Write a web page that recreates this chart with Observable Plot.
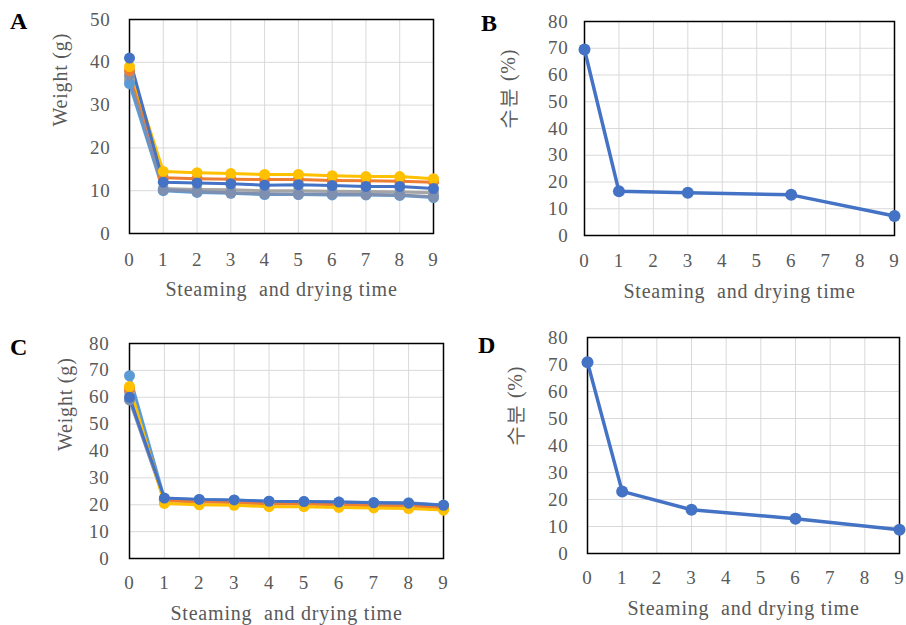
<!DOCTYPE html>
<html>
<head>
<meta charset="utf-8">
<script src="https://cdn.jsdelivr.net/npm/d3@7"></script>
<script src="https://cdn.jsdelivr.net/npm/@observablehq/plot@0.6"></script>
<style>
  html, body { margin: 0; padding: 0; background: #fff; }
  #wrap { position: relative; width: 906px; height: 625px; overflow: hidden; }
  .panel { position: absolute; }
  .panel text { letter-spacing: 0.8px; }
  .letter { position: absolute; font-family: "Liberation Serif"; font-weight: bold; font-size: 24px; color: #000; }
</style>
</head>
<body>
<div id="wrap"></div>
<script>
// ---- data ----
const timesAll = [0, 1, 2, 3, 4, 5, 6, 7, 8, 9];
const xTicks = [0, 1, 2, 3, 4, 5, 6, 7, 8, 9];
const seriesNames = ["S1", "S2", "S3", "S4", "S5", "S6"];
const seriesColors = ["#A5A5A5", "#5B9BD5", "#7F8FAF", "#ED7D31", "#FFC000", "#4472C4"];

// Panel A: weight (g)
const aGray      = [36, 10.5, 10.3, 10.2, 10.0, 10.0, 9.9, 9.8, 9.7, 9.5];
const aLightBlue = [35, 10.0, 9.6, 9.4, 9.1, 9.1, 9.0, 9.0, 8.9, 8.4];
const aBlueGray  = [37, 10.2, 9.8, 9.5, 9.3, 9.2, 9.2, 9.1, 9.0, 8.6];
const aOrange    = [38, 13.0, 12.8, 12.7, 12.6, 12.6, 12.4, 12.3, 12.2, 12.0];
const aYellow    = [39, 14.5, 14.2, 14.0, 13.8, 13.8, 13.5, 13.3, 13.3, 12.8];
const aBlue      = [41, 12.0, 11.8, 11.6, 11.3, 11.4, 11.2, 11.0, 11.0, 10.5];
const yTicksA = [0, 10, 20, 30, 40, 50];

// Panel C: weight (g)
const cGray      = [62, 22.0, 21.5, 21.2, 20.8, 20.8, 20.5, 20.2, 20.0, 19.3];
const cLightBlue = [68, 22.3, 22.0, 21.7, 21.3, 21.2, 21.0, 20.8, 20.7, 19.9];
const cBlueGray  = [59, 21.8, 21.3, 21.1, 20.7, 20.6, 20.4, 20.1, 20.0, 19.4];
const cOrange    = [63, 21.5, 21.0, 20.8, 20.3, 20.3, 20.0, 19.6, 19.5, 18.8];
const cYellow    = [64, 20.5, 20.0, 19.8, 19.3, 19.3, 19.0, 18.8, 18.6, 18.0];
const cBlue      = [60, 22.5, 22.0, 21.8, 21.3, 21.2, 21.0, 20.7, 20.6, 19.8];
const yTicks80 = [0, 10, 20, 30, 40, 50, 60, 70, 80];

// Panels B and D: moisture (%)
const moistTimes = [0, 1, 3, 6, 9];
const bMoist = [69.5, 16.5, 16.0, 15.2, 7.3];
const dMoist = [70.8, 23.0, 16.2, 12.9, 8.8];

const xLabel = "Steaming  and drying time";
const weightLabel = "Weight (g)";
const moistLabel = "수분 (%)";

// ---- build tables ----
function longTable(arrays) {
  const rows = [];
  arrays.forEach((vals, i) => vals.forEach((v, j) => rows.push({series: seriesNames[i], t: timesAll[j], v})));
  return rows;
}
const tableA = longTable([aGray, aLightBlue, aBlueGray, aOrange, aYellow, aBlue]);
const tableC = longTable([cGray, cLightBlue, cBlueGray, cOrange, cYellow, cBlue]);
const tableB = moistTimes.map((t, i) => ({t, v: bMoist[i]}));
const tableD = moistTimes.map((t, i) => ({t, v: dMoist[i]}));

const font = "Liberation Serif";
const tickColor = "#595959";

function panel(cfg) {
  const multi = cfg.multi;
  const marks = [
    Plot.gridX(xTicks, {stroke: "#d9d9d9", strokeOpacity: 1, strokeWidth: 1}),
    Plot.gridY(cfg.yTicks, {stroke: "#d9d9d9", strokeOpacity: 1, strokeWidth: 1}),
    Plot.axisX(xTicks, {tickSize: 0, tickPadding: cfg.xPad, fill: tickColor, fontSize: 19, fontFamily: font, label: null}),
    Plot.axisY(cfg.yTicks, {tickSize: 0, tickPadding: cfg.yPad, fill: tickColor, fontSize: 19, fontFamily: font, label: null}),
    Plot.frame({stroke: "#000", strokeWidth: 1.5}),
  ];
  if (multi) {
    marks.push(Plot.line(cfg.data, {x: "t", y: "v", z: "series", stroke: "series", strokeWidth: 3}));
    marks.push(Plot.dot(cfg.data, {x: "t", y: "v", fill: "series", r: 5.5}));
  } else {
    marks.push(Plot.line(cfg.data, {x: "t", y: "v", stroke: "#4472C4", strokeWidth: 3.5}));
    marks.push(Plot.dot(cfg.data, {x: "t", y: "v", fill: "#4472C4", r: 6}));
  }
  marks.push(Plot.text([cfg.xLabel], {frameAnchor: "bottom", dy: cfg.xLabDy, fill: tickColor, fontSize: 20, fontFamily: font, lineAnchor: "middle"}));
  marks.push(Plot.text([cfg.yLabel], {frameAnchor: "left", dx: cfg.yLabDx, rotate: -90, fill: tickColor, fontSize: 20, fontFamily: font, lineAnchor: "middle"}));
  const p = Plot.plot({
    width: cfg.width, height: cfg.height,
    marginLeft: cfg.ml, marginRight: cfg.mr, marginTop: cfg.mt, marginBottom: cfg.mb,
    style: {fontFamily: font, fontSize: "19px", background: "transparent", overflow: "visible"},
    x: {domain: [0, 9], axis: null},
    y: {domain: [cfg.yTicks[0], cfg.yTicks[cfg.yTicks.length - 1]], axis: null},
    color: multi ? {domain: seriesNames, range: seriesColors} : undefined,
    marks
  });
  p.classList.add("panel");
  p.style.left = cfg.left + "px";
  p.style.top = cfg.top + "px";
  return p;
}

const wrap = document.getElementById("wrap");
wrap.appendChild(panel({multi: true, data: tableA, yTicks: yTicksA, left: 0, top: 0, width: 453, height: 310,
  ml: 129, mr: 20, mt: 19, mb: 77, xPad: 19, yPad: 19, xLabel, yLabel: weightLabel, xLabDy: 56, yLabDx: -69}));
wrap.appendChild(panel({multi: false, data: tableB, yTicks: yTicks80, left: 460, top: 0, width: 446, height: 310,
  ml: 124, mr: 12, mt: 21, mb: 75, xPad: 18, yPad: 16, xLabel, yLabel: moistLabel, xLabDy: 56, yLabDx: -76}));
wrap.appendChild(panel({multi: true, data: tableC, yTicks: yTicks80, left: 0, top: 310, width: 460, height: 315,
  ml: 129, mr: 17, mt: 33, mb: 67, xPad: 17, yPad: 20, xLabel, yLabel: weightLabel, xLabDy: 55, yLabDx: -64}));
wrap.appendChild(panel({multi: false, data: tableD, yTicks: yTicks80, left: 460, top: 310, width: 446, height: 315,
  ml: 127, mr: 7, mt: 27, mb: 72, xPad: 17, yPad: 19, xLabel, yLabel: moistLabel, xLabDy: 55, yLabDx: -72}));

const letters = [["A", 10, 8], ["B", 481, 10], ["C", 10, 334], ["D", 478, 332]];
letters.forEach(([t, x, y]) => {
  const d = document.createElement("div");
  d.className = "letter";
  d.textContent = t;
  d.style.left = x + "px";
  d.style.top = y + "px";
  wrap.appendChild(d);
});
</script>
</body>
</html>
